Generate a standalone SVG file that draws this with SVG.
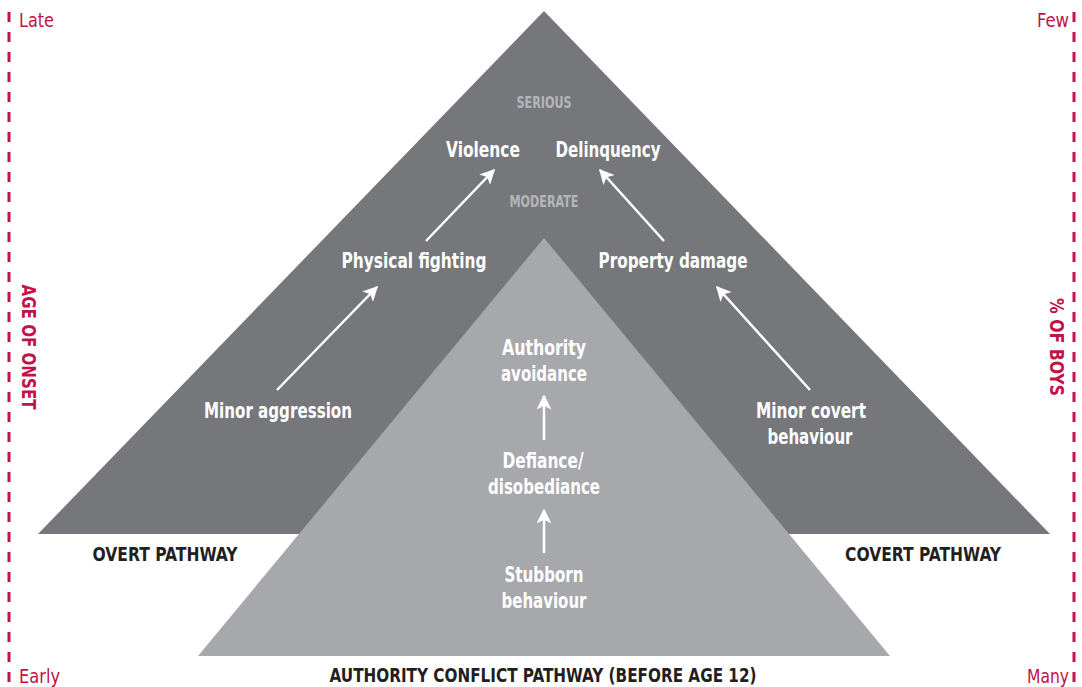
<svg xmlns="http://www.w3.org/2000/svg" width="1082" height="687" viewBox="0 0 1082 687">
  <style>
    text { font-family: "Liberation Sans Narrow", "DejaVu Sans Condensed", sans-serif; font-weight: bold; }
    .node { fill: #ffffff; font-size: 21px; text-anchor: middle; }
    .level { fill: #b4b5b8; font-size: 15px; text-anchor: middle; }
    .path { fill: #231f20; font-size: 20px; text-anchor: middle; }
    .axis { fill: #c1124a; font-size: 20px; font-weight: normal; }
    .axisv { fill: #c1124a; font-size: 19px; text-anchor: middle; }
    .dash { stroke: #c1124a; stroke-width: 3; stroke-dasharray: 10 10; fill: none; }
    .conn { stroke: #ffffff; stroke-width: 2.5; fill: none; marker-end: url(#ah); }
  </style>
  <defs>
    <marker id="ah" viewBox="0 0 10 10" refX="9" refY="5" markerWidth="6" markerHeight="6" orient="auto" markerUnits="strokeWidth">
      <path d="M0,0 L10,5 L0,10 L2.5,5 Z" fill="#ffffff"/>
    </marker>
  </defs>
  <rect width="1082" height="687" fill="#ffffff"/>

  <g id="axes">
    <line class="dash" x1="9" y1="12" x2="9" y2="684"/>
    <line class="dash" x1="1074" y1="12" x2="1074" y2="684"/>
    <text class="axis" x="19" y="27" textLength="35" lengthAdjust="spacingAndGlyphs">Late</text>
    <text class="axis" x="19" y="683" textLength="41" lengthAdjust="spacingAndGlyphs">Early</text>
    <text class="axis" x="1069" y="27" text-anchor="end" textLength="32" lengthAdjust="spacingAndGlyphs">Few</text>
    <text class="axis" x="1069" y="683" text-anchor="end" textLength="42" lengthAdjust="spacingAndGlyphs">Many</text>
    <text class="axisv" transform="translate(22,347) rotate(90)" textLength="125" lengthAdjust="spacingAndGlyphs">AGE OF ONSET</text>
    <text class="axisv" transform="translate(1050,347) rotate(90)" textLength="98" lengthAdjust="spacingAndGlyphs">% OF BOYS</text>
  </g>

  <g id="overt-covert-triangle">
    <polygon points="544,11 1050,534 38,534" fill="#76777b"/>
  </g>
  <g id="authority-triangle">
    <polygon points="544,238 890,656 198,656" fill="#a7a8ac"/>
  </g>

  <g id="levels">
    <text class="level" x="544" y="108" textLength="55" lengthAdjust="spacingAndGlyphs">SERIOUS</text>
    <text class="level" x="544" y="207" textLength="69" lengthAdjust="spacingAndGlyphs">MODERATE</text>
  </g>

  <g id="node-violence"><text class="node" x="483" y="157" textLength="74" lengthAdjust="spacingAndGlyphs">Violence</text></g>
  <g id="node-delinquency"><text class="node" x="608" y="157" textLength="105" lengthAdjust="spacingAndGlyphs">Delinquency</text></g>
  <g id="node-physical-fighting"><text class="node" x="414" y="268" textLength="145" lengthAdjust="spacingAndGlyphs">Physical fighting</text></g>
  <g id="node-property-damage"><text class="node" x="673" y="268" textLength="149" lengthAdjust="spacingAndGlyphs">Property damage</text></g>
  <g id="node-minor-aggression"><text class="node" x="278" y="418" textLength="148" lengthAdjust="spacingAndGlyphs">Minor aggression</text></g>
  <g id="node-minor-covert"><text class="node" x="811" y="418" textLength="110" lengthAdjust="spacingAndGlyphs">Minor covert</text><text class="node" x="810" y="444" textLength="85" lengthAdjust="spacingAndGlyphs">behaviour</text></g>
  <g id="node-authority-avoidance"><text class="node" x="544" y="355" textLength="84" lengthAdjust="spacingAndGlyphs">Authority</text><text class="node" x="544" y="381" textLength="86" lengthAdjust="spacingAndGlyphs">avoidance</text></g>
  <g id="node-defiance"><text class="node" x="543" y="468" textLength="81" lengthAdjust="spacingAndGlyphs">Defiance/</text><text class="node" x="544" y="494" textLength="112" lengthAdjust="spacingAndGlyphs">disobediance</text></g>
  <g id="node-stubborn"><text class="node" x="544" y="582" textLength="79" lengthAdjust="spacingAndGlyphs">Stubborn</text><text class="node" x="544" y="608" textLength="85" lengthAdjust="spacingAndGlyphs">behaviour</text></g>

  <g id="pathway-labels">
    <text class="path" x="165" y="561" textLength="145" lengthAdjust="spacingAndGlyphs">OVERT PATHWAY</text>
    <text class="path" x="923" y="561" textLength="156" lengthAdjust="spacingAndGlyphs">COVERT PATHWAY</text>
    <text class="path" x="543" y="682" textLength="427" lengthAdjust="spacingAndGlyphs">AUTHORITY CONFLICT PATHWAY (BEFORE AGE 12)</text>
  </g>

  <g id="connectors">
    <line class="conn" x1="277" y1="390" x2="377" y2="287"/>
    <line class="conn" x1="426" y1="241" x2="494" y2="170"/>
    <line class="conn" x1="810" y1="390" x2="717" y2="287"/>
    <line class="conn" x1="664" y1="241" x2="600" y2="170"/>
    <line class="conn" x1="544" y1="440" x2="544" y2="396"/>
    <line class="conn" x1="544" y1="553" x2="544" y2="510"/>
  </g>
</svg>
